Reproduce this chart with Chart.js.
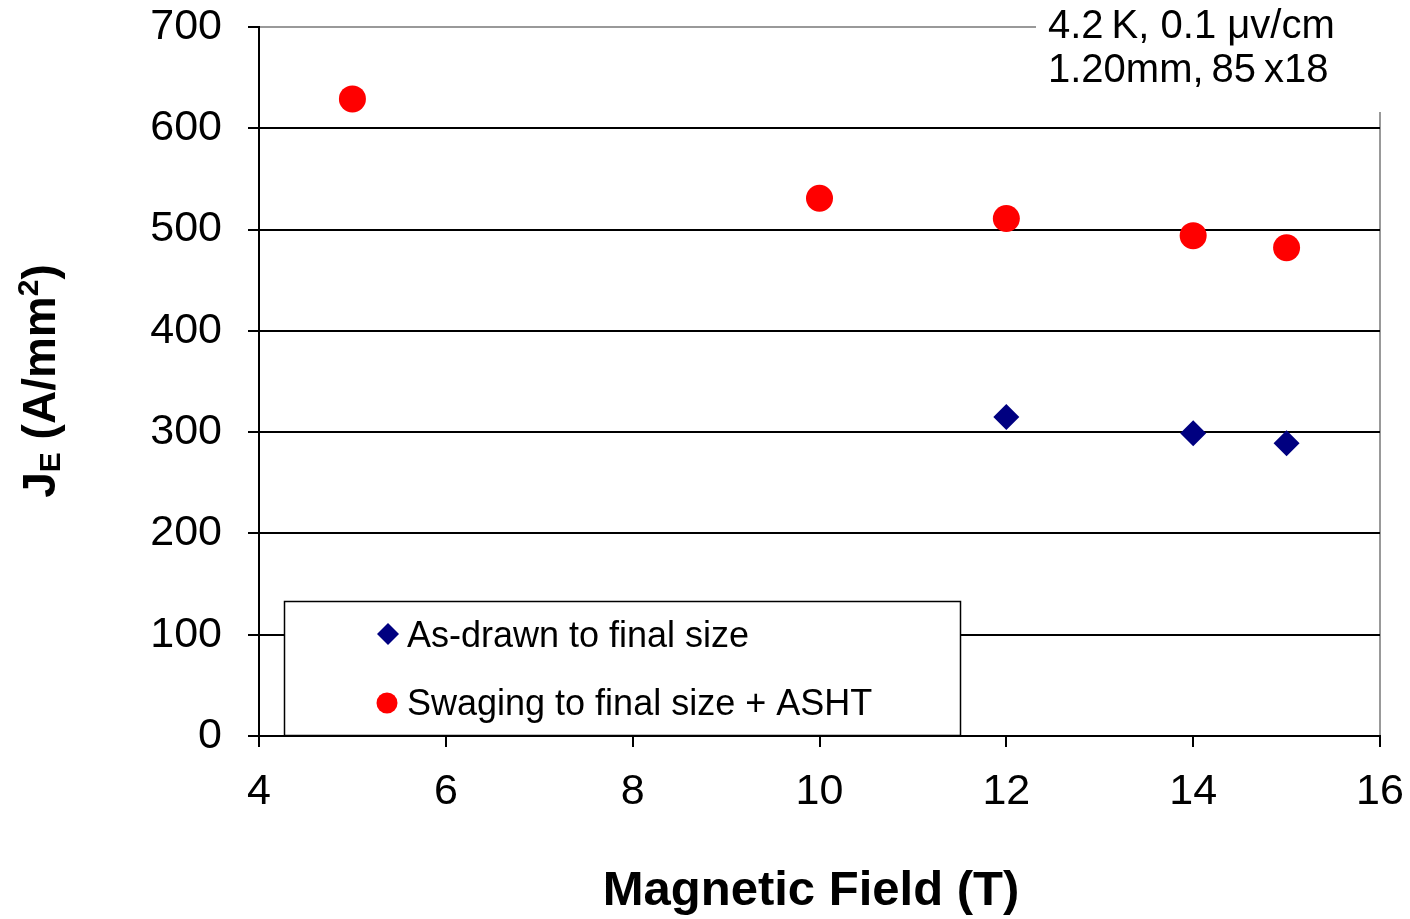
<!DOCTYPE html>
<html>
<head>
<meta charset="utf-8">
<script src="https://cdn.jsdelivr.net/npm/chart.js@4.4.1/dist/chart.umd.min.js"></script>
<style>
  html, body { margin: 0; padding: 0; background: #fff; }
  #wrap { width: 1410px; height: 919px; }
</style>
</head>
<body>
<div id="wrap"><canvas id="chart" width="1410" height="919"></canvas></div>
<script>
// data
const fieldDrawn = [12, 14, 15];
const jeDrawn = [315, 299, 289];
const fieldSwaged = [5, 10, 12, 14, 15];
const jeSwaged = [629, 531, 511, 494, 482];
const xTickValues = [4, 6, 8, 10, 12, 14, 16];
const yTickValues = [0, 100, 200, 300, 400, 500, 600, 700];
const seriesNames = ['As-drawn to final size', 'Swaging to final size + ASHT'];
const noteLines = ['4.2\u2009K, 0.1 \u03bcv/cm', '1.20mm,\u200985\u2009x18'];

const FONT = '"Liberation Sans", Arial, sans-serif';

const toPoints = (xs, ys) => xs.map((x, i) => ({ x: x, y: ys[i] }));

// legend, note box and axis titles
const extras = {
  id: 'extras',
  afterDraw(chart) {
    const c = chart.ctx;
    c.save();

    // legend box
    c.fillStyle = '#fff';
    c.fillRect(284, 601, 677, 134);
    c.strokeStyle = '#000';
    c.lineWidth = 1.5;
    c.strokeRect(284.5, 601.5, 676, 134);

    c.fillStyle = '#000080';
    c.beginPath();
    c.moveTo(388, 623); c.lineTo(399, 634); c.lineTo(388, 645); c.lineTo(377, 634);
    c.closePath(); c.fill();
    c.fillStyle = '#ff0000';
    c.beginPath(); c.arc(387, 703, 10.5, 0, Math.PI * 2); c.fill();

    c.fillStyle = '#000';
    c.font = '36px ' + FONT;
    c.textAlign = 'left';
    c.textBaseline = 'middle';
    c.fillText(seriesNames[0], 407, 637);
    c.fillText(seriesNames[1], 407, 705);

    // note in the top right corner
    c.fillStyle = '#fff';
    c.fillRect(1036, 0, 374, 112);
    c.fillStyle = '#000';
    c.font = '40px ' + FONT;
    c.fillText(noteLines[0], 1048, 27);
    c.fillText(noteLines[1], 1048, 71);

    // x title
    c.font = 'bold 49px ' + FONT;
    c.textAlign = 'center';
    c.fillText('Magnetic Field (T)', 811, 891);

    // y title, rotated, with sub/superscript
    c.translate(42, 381);
    c.rotate(-Math.PI / 2);
    const big = 'bold 46px ' + FONT;
    const small = 'bold 30px ' + FONT;
    const parts = [
      { t: 'J', f: big, dy: 0 },
      { t: 'E', f: small, dy: 10 },
      { t: ' (A/mm', f: big, dy: 0 },
      { t: '2', f: small, dy: -12 },
      { t: ')', f: big, dy: 0 }
    ];
    let total = 0;
    parts.forEach(p => { c.font = p.f; p.w = c.measureText(p.t).width; total += p.w; });
    let x = -total / 2;
    c.textAlign = 'left';
    parts.forEach(p => { c.font = p.f; c.fillText(p.t, x, p.dy); x += p.w; });

    c.restore();
  }
};

new Chart(document.getElementById('chart'), {
  type: 'scatter',
  data: {
    datasets: [
      {
        label: seriesNames[0],
        data: toPoints(fieldDrawn, jeDrawn),
        pointStyle: 'rectRot',
        pointRadius: 13,
        backgroundColor: '#000080',
        borderWidth: 0
      },
      {
        label: seriesNames[1],
        data: toPoints(fieldSwaged, jeSwaged),
        pointStyle: 'circle',
        pointRadius: 13.5,
        backgroundColor: '#ff0000',
        borderWidth: 0
      }
    ]
  },
  options: {
    responsive: false,
    animation: false,
    layout: { padding: { top: 27, right: 30, left: 0, bottom: 0 } },
    plugins: { legend: { display: false }, tooltip: { enabled: false } },
    scales: {
      x: {
        type: 'linear',
        min: 4,
        max: 16,
        afterBuildTicks: s => { s.ticks = xTickValues.map(v => ({ value: v })); },
        afterFit: s => { s.height = 183; s.paddingLeft = 0; s.paddingRight = 0; },
        ticks: { font: { size: 43, family: FONT }, color: '#000', padding: 19 },
        grid: {
          color: ctx => (ctx.tick && ctx.tick.value === 16) ? '#999' : 'rgba(0,0,0,0)',
          lineWidth: 2,
          tickColor: '#000',
          tickLength: 11
        },
        border: { color: '#000', width: 2 }
      },
      y: {
        min: 0,
        max: 700,
        afterBuildTicks: s => { s.ticks = yTickValues.map(v => ({ value: v })); },
        afterFit: s => { s.width = 259; s.paddingTop = 0; s.paddingBottom = 0; },
        ticks: { font: { size: 43, family: FONT }, color: '#000', padding: 26 },
        grid: {
          color: ctx => {
            if (!ctx.tick) return '#000';
            if (ctx.tick.value === 0) return 'rgba(0,0,0,0)';
            if (ctx.tick.value === 700) return '#999';
            return '#000';
          },
          lineWidth: 2,
          tickColor: '#000',
          tickLength: 11
        },
        border: { color: '#000', width: 2 }
      }
    }
  },
  plugins: [extras]
});
</script>
</body>
</html>
